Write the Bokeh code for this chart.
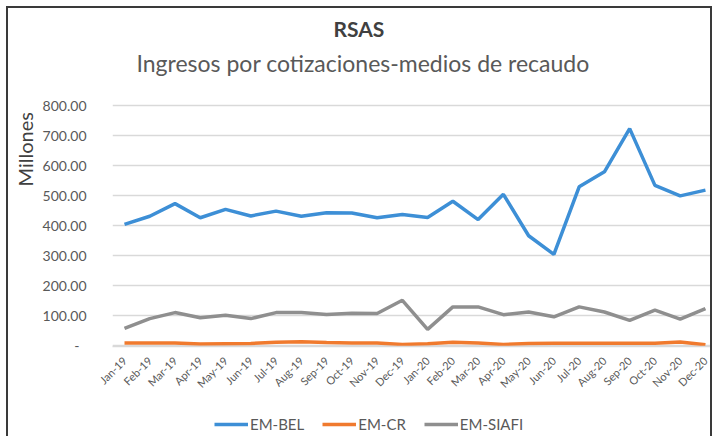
import math
from bokeh.plotting import figure
from bokeh.layouts import column
from bokeh.models import (Range1d, FixedTicker, CustomJSTickFormatter, Title,
                          Legend, LegendItem, ColumnDataSource)
from bokeh.embed import file_html
from bokeh.resources import INLINE

months = ["Jan-19", "Feb-19", "Mar-19", "Apr-19", "May-19", "Jun-19", "Jul-19",
          "Aug-19", "Sep-19", "Oct-19", "Nov-19", "Dec-19", "Jan-20", "Feb-20",
          "Mar-20", "Apr-20", "May-20", "Jun-20", "Jul-20", "Aug-20", "Sep-20",
          "Oct-20", "Nov-20", "Dec-20"]
em_bel = [404, 431, 473, 426, 454, 432, 448, 431, 443, 442, 426, 437,
          427, 481, 420, 504, 366, 304, 529, 579, 723, 534, 499, 518]
em_cr = [9, 9, 9, 5, 6, 7, 11, 13, 10, 9, 9, 4,
         6, 11, 9, 4, 7, 8, 8, 8, 8, 8, 12, 3]
em_siafi = [57, 90, 110, 93, 101, 90, 110, 110, 104, 108, 107, 151,
            54, 129, 129, 103, 112, 96, 129, 112, 84, 118, 88, 123]
y_ticks = [0, 100, 200, 300, 400, 500, 600, 700, 800]
series_names = ["EM-BEL", "EM-CR", "EM-SIAFI"]

x = list(range(len(months)))
src = ColumnDataSource(dict(x=x, bel=em_bel, cr=em_cr, siafi=em_siafi))

FONT = "Lato"
GRAY = "#595959"
COLORS = ["#3d8fd6", "#f07a2e", "#8f8f8f"]
COLS = ["bel", "cr", "siafi"]

p = figure(frame_width=598, frame_height=268, output_backend="svg",
           toolbar_location=None, title=None,
           x_range=Range1d(-0.475, 23.2), y_range=Range1d(-3, 890),
           min_border_left=94, min_border_right=0, min_border_top=0,
           min_border_bottom=68)
p.outline_line_color = None
p.background_fill_color = "white"
p.border_fill_color = "white"

for col, c in zip(COLS, COLORS):
    p.line("x", col, source=src, line_color=c, line_width=3.5)

p.xgrid.visible = False
p.ygrid.grid_line_color = "#d9d9d9"
p.ygrid.grid_line_width = 1.5
p.ygrid.ticker = FixedTicker(ticks=y_ticks)

p.yaxis.ticker = FixedTicker(ticks=y_ticks)
p.yaxis.formatter = CustomJSTickFormatter(
    code="return tick == 0 ? '-\u00a0\u00a0' : tick.toFixed(2);")
p.yaxis.axis_line_color = None
p.yaxis.major_tick_line_color = None
p.yaxis.minor_tick_line_color = None
p.yaxis.major_label_text_font = FONT
p.yaxis.major_label_text_font_size = "14px"
p.yaxis.major_label_text_color = GRAY
p.yaxis.major_label_standoff = 20

p.xaxis.ticker = FixedTicker(ticks=x)
p.xaxis.major_label_overrides = {i: m for i, m in enumerate(months)}
p.xaxis.major_label_orientation = math.pi / 4
p.xaxis.axis_line_color = "#d9d9d9"
p.xaxis.axis_line_width = 1.5
p.xaxis.major_tick_line_color = None
p.xaxis.minor_tick_line_color = None
p.xaxis.major_label_text_font = FONT
p.xaxis.major_label_text_font_size = "11px"
p.xaxis.major_label_text_color = GRAY
p.xaxis.major_label_standoff = 6

p.add_layout(Title(text="Ingresos por cotizaciones-medios de recaudo", align="left",
                   offset=24, text_font=FONT, text_font_size="23px",
                   text_font_style="normal", text_color=GRAY, standoff=3), "above")
p.add_layout(Title(text="RSAS", align="left", offset=221, text_font=FONT,
                   text_font_size="21px", text_font_style="bold",
                   text_color="#404040", standoff=10), "above")
p.add_layout(Title(text="Millones", align="left", offset=160, text_font=FONT,
                   text_font_size="20px", text_font_style="normal",
                   text_color="#404040", standoff=5), "left")

# legend strip underneath (lines kept out of its view, only the legend shows)
p2 = figure(width=692, height=22, output_backend="svg", toolbar_location=None,
            x_range=Range1d(-2, -1), y_range=Range1d(-2, -1),
            min_border_left=0, min_border_right=0, min_border_top=0,
            min_border_bottom=0)
p2.axis.visible = False
p2.grid.visible = False
p2.outline_line_color = None
items = []
for col, c, name in zip(COLS, COLORS, series_names):
    r = p2.line("x", col, source=src, line_color=c, line_width=3.5)
    items.append(LegendItem(label=name, renderers=[r]))

legend = Legend(items=items, location=(102, 3), orientation="horizontal",
                label_text_font=FONT, label_text_font_size="15px",
                label_text_color=GRAY, glyph_width=34, glyph_height=16,
                label_height=16, label_standoff=2,
                spacing=18, border_line_color=None, background_fill_alpha=0,
                margin=0, padding=0)
p2.add_layout(legend)

lay = column(p, p2, spacing=0)
lay.styles = {"border-left": "2px solid #3a3a3a", "border-top": "2px solid #3a3a3a",
              "border-right": "2px solid #3a3a3a", "margin-left": "6px",
              "margin-top": "6px"}

open("out.html", "w").write(file_html(lay, INLINE))
